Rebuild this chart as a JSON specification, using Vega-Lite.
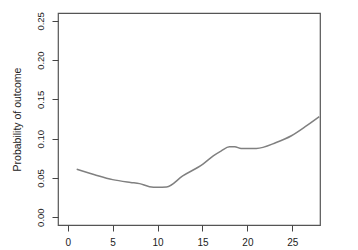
{
  "$schema": "https://vega.github.io/schema/vega-lite/v6.json",
  "width": 262,
  "height": 212,
  "autosize": {"type": "none"},
  "padding": {"left": 58, "top": 13, "right": 38, "bottom": 25},
  "background": "white",
  "config": {
    "view": {"stroke": "#555555", "strokeWidth": 1.2},
    "font": "Liberation Sans",
    "axis": {
      "grid": false,
      "domain": false,
      "tickColor": "#444444",
      "tickSize": 6,
      "labelFont": "Liberation Sans",
      "labelFontSize": 10,
      "labelColor": "#222222",
      "titleFont": "Liberation Sans",
      "titleFontWeight": "normal",
      "titleFontSize": 10.5,
      "titleColor": "#222222"
    }
  },
  "data": {
    "values": [
      {"x": 1.0, "p": 0.061},
      {"x": 3.0, "p": 0.054},
      {"x": 5.0, "p": 0.0478},
      {"x": 7.0, "p": 0.0442},
      {"x": 8.0, "p": 0.0427},
      {"x": 9.1, "p": 0.0388},
      {"x": 10.0, "p": 0.038},
      {"x": 11.0, "p": 0.0384},
      {"x": 12.8, "p": 0.0525},
      {"x": 15.05, "p": 0.0675},
      {"x": 16.2, "p": 0.078},
      {"x": 17.1, "p": 0.0845},
      {"x": 18.0, "p": 0.0896},
      {"x": 18.6, "p": 0.0896},
      {"x": 19.3, "p": 0.0875},
      {"x": 21.0, "p": 0.0875},
      {"x": 23.2, "p": 0.095},
      {"x": 24.9, "p": 0.1037},
      {"x": 26.6, "p": 0.1165},
      {"x": 28.0, "p": 0.128}
    ]
  },
  "mark": {"type": "line", "color": "#808080", "strokeWidth": 1.5, "clip": true, "interpolate": "monotone"},
  "encoding": {
    "x": {
      "field": "x",
      "type": "quantitative",
      "scale": {"domain": [-1.08, 28.08], "nice": false, "zero": false},
      "axis": {"values": [0, 5, 10, 15, 20, 25], "title": null, "labelPadding": 6, "labelBaseline": "top"}
    },
    "y": {
      "field": "p",
      "type": "quantitative",
      "scale": {"domain": [-0.01, 0.26], "nice": false, "zero": false},
      "axis": {
        "values": [0, 0.05, 0.1, 0.15, 0.2, 0.25],
        "format": ".2f",
        "title": "Probability of outcome",
        "labelAngle": -90,
        "labelAlign": "center",
        "labelBaseline": "bottom",
        "labelPadding": 7,
        "labelFontSize": 9.5,
        "titlePadding": 13
      }
    }
  }
}
